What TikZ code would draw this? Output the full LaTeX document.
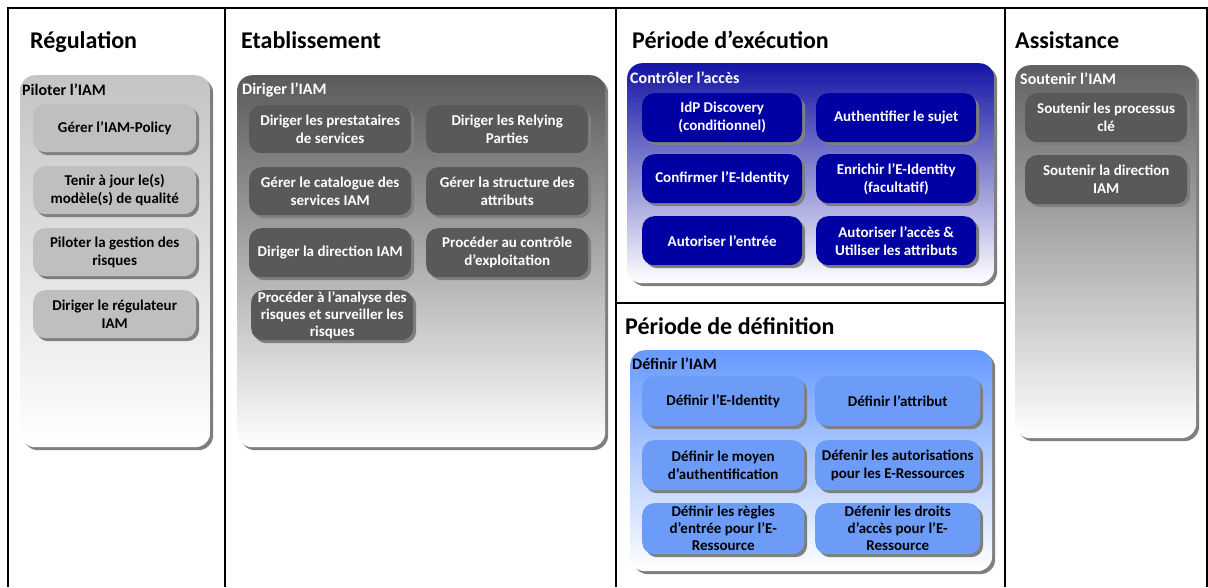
\documentclass[tikz,border=0pt]{standalone}
\usepackage{fontspec}
\setmainfont{Carlito}
\usetikzlibrary{shadows}
\definecolor{regbox}{HTML}{BFBFBF}
\definecolor{regtop}{HTML}{C4C4C4}
\definecolor{etabbox}{HTML}{595959}
\definecolor{etabtop}{HTML}{5A5A5A}
\definecolor{etabmid}{HTML}{D0D0D0}
\definecolor{execbox}{HTML}{0000A3}
\definecolor{exectop}{HTML}{1414A6}
\definecolor{execmid}{HTML}{8C8CD6}
\definecolor{defbox}{HTML}{6C9CF7}
\definecolor{deftop}{HTML}{6699FF}
\definecolor{defmid}{HTML}{B4CCFF}
\definecolor{asstop}{HTML}{626262}
\definecolor{assmid}{HTML}{C4C4C4}
\definecolor{shadowc}{HTML}{7F7F7F}
\tikzset{
  grid/.style={line width=1.2pt, black},
  panel/.style={rounded corners=15pt, inner sep=0pt, anchor=north west, draw=none,
    drop shadow={shadow xshift=3pt, shadow yshift=-3pt, fill=shadowc, opacity=1}},
  pbox/.style={rounded corners=12pt, inner sep=1pt, anchor=north west, draw=none, align=center,
    font=\bfseries\fontsize{15}{18}\selectfont,
    drop shadow={shadow xshift=3pt, shadow yshift=-3pt, fill=shadowc, opacity=1}},
  tight/.style={font=\bfseries\fontsize{15}{17}\selectfont},
  regb/.style={pbox, fill=regbox, text=black},
  etabb/.style={pbox, fill=etabbox, text=white},
  execb/.style={pbox, fill=execbox, text=white},
  defb/.style={pbox, fill=defbox, text=black},
  title/.style={anchor=base west, inner sep=0pt, font=\bfseries\fontsize{24}{27}\selectfont},
  glabel/.style={anchor=base west, inner sep=0pt, font=\bfseries\fontsize{16}{18}\selectfont},
}
\begin{document}
\begin{tikzpicture}[x=1pt, y=-1pt]
\useasboundingbox (0,0) rectangle (1208,587);
% grid
\draw[grid] (7.4,8) -- (1207.6,8);
\draw[grid] (8,8) -- (8,587);
\draw[grid] (225,8) -- (225,587);
\draw[grid] (616,8) -- (616,587);
\draw[grid] (1005,8) -- (1005,587);
\draw[grid] (1207,8) -- (1207,587);
\draw[grid] (616,303) -- (1005,303);

% titles
\node[title] (tReg) at (30,48.5) {Régulation};
\node[title] (tEtab) at (241,48.5) {Etablissement};
\node[title] (tExec) at (632,48.5) {Période d’exécution};
\node[title] (tAss) at (1015,48.5) {Assistance};
\node[title] (tDef) at (625,334) {Période de définition};

% panels
\node[panel, minimum width=190pt, minimum height=372pt, top color=regtop, bottom color=white] (pReg) at (20,75) {};
\node[panel, minimum width=368pt, minimum height=372pt, top color=etabtop, middle color=etabmid, bottom color=white] (pEtab) at (237,75) {};
\node[panel, minimum width=367pt, minimum height=220pt, top color=exectop, middle color=execmid, bottom color=white] (pExec) at (627,63) {};
\node[panel, minimum width=362pt, minimum height=221pt, top color=deftop, middle color=defmid, bottom color=white] (pDef) at (630,350) {};
\node[panel, minimum width=181pt, minimum height=373pt, top color=asstop, middle color=assmid, bottom color=white] (pAss) at (1015,65) {};

% group labels
\node[glabel] (lReg) at (22,95) {Piloter l’IAM};
\node[glabel, text=white] (lEtab) at (242,94) {Diriger l’IAM};
\node[glabel, text=white] (lExec) at (630,83) {Contrôler l’accès};
\node[glabel] (lDef) at (632,369) {Définir l’IAM};
\node[glabel, text=white] (lAss) at (1020,84) {Soutenir l’IAM};

% Regulation boxes
\node[regb, minimum width=163pt, minimum height=48pt] (r1) at (33,104) {Gérer l’IAM-Policy};
\node[regb, minimum width=163pt, minimum height=48pt] (r2) at (33,166) {Tenir à jour le(s)\\modèle(s) de qualité};
\node[regb, minimum width=163pt, minimum height=48pt] (r3) at (33,228) {Piloter la gestion des\\risques};
\node[regb, minimum width=163pt, minimum height=48pt] (r4) at (33,290) {Diriger le régulateur\\IAM};

% Etablissement boxes
\node[etabb, minimum width=162pt, minimum height=48pt] (e1) at (249,105) {Diriger les prestataires\\de services};
\node[etabb, minimum width=162pt, minimum height=48pt] (e2) at (426,105) {Diriger les Relying\\Parties};
\node[etabb, minimum width=162pt, minimum height=48pt] (e3) at (249,167) {Gérer le catalogue des\\services IAM};
\node[etabb, minimum width=162pt, minimum height=48pt] (e4) at (426,167) {Gérer la structure des\\attributs};
\node[etabb, minimum width=162pt, minimum height=49pt] (e5) at (249,228) {Diriger la direction IAM};
\node[etabb, minimum width=162pt, minimum height=49pt] (e6) at (426,228) {Procéder au contrôle\\d’exploitation};
\node[etabb, tight, inner sep=0pt, minimum width=162pt, minimum height=50pt] (e7) at (251,290) {Procéder à l’analyse des\\risques et surveiller les\\risques};

% Execution boxes
\node[execb, minimum width=160pt, minimum height=49pt] (x1) at (642,93) {IdP Discovery\\(conditionnel)};
\node[execb, minimum width=160pt, minimum height=49pt] (x2) at (816,93) {Authentifier le sujet};
\node[execb, minimum width=160pt, minimum height=49pt] (x3) at (642,154) {Confirmer l’E-Identity};
\node[execb, minimum width=160pt, minimum height=49pt] (x4) at (816,154) {Enrichir l’E-Identity\\(facultatif)};
\node[execb, minimum width=160pt, minimum height=49pt] (x5) at (642,216) {Autoriser l’entrée};
\node[execb, minimum width=160pt, minimum height=49pt] (x6) at (816,216) {Autoriser l’accès \&\\Utiliser les attributs};

% Definition boxes
\node[defb, minimum width=162pt, minimum height=50pt] (d1) at (642,376) {Définir l’E-Identity};
\node[defb, minimum width=165pt, minimum height=50pt] (d2) at (815,376) {Définir l’attribut};
\node[defb, minimum width=162pt, minimum height=50pt] (d3) at (642,440) {Définir le moyen\\d’authentification};
\node[defb, minimum width=165pt, minimum height=50pt] (d4) at (815,440) {Défenir les autorisations\\pour les E-Ressources};
\node[defb, tight, inner sep=0pt, minimum width=162pt, minimum height=51pt] (d5) at (642,503) {Définir les règles\\d’entrée pour l’E-\\Ressource};
\node[defb, tight, inner sep=0pt, minimum width=165pt, minimum height=51pt] (d6) at (815,503) {Défenir les droits\\d’accès pour l’E-\\Ressource};

% Assistance boxes
\node[etabb, minimum width=162pt, minimum height=49pt] (a1) at (1025,93) {Soutenir les processus\\clé};
\node[etabb, minimum width=162pt, minimum height=49pt] (a2) at (1025,155) {Soutenir la direction\\IAM};
\end{tikzpicture}
\end{document}
